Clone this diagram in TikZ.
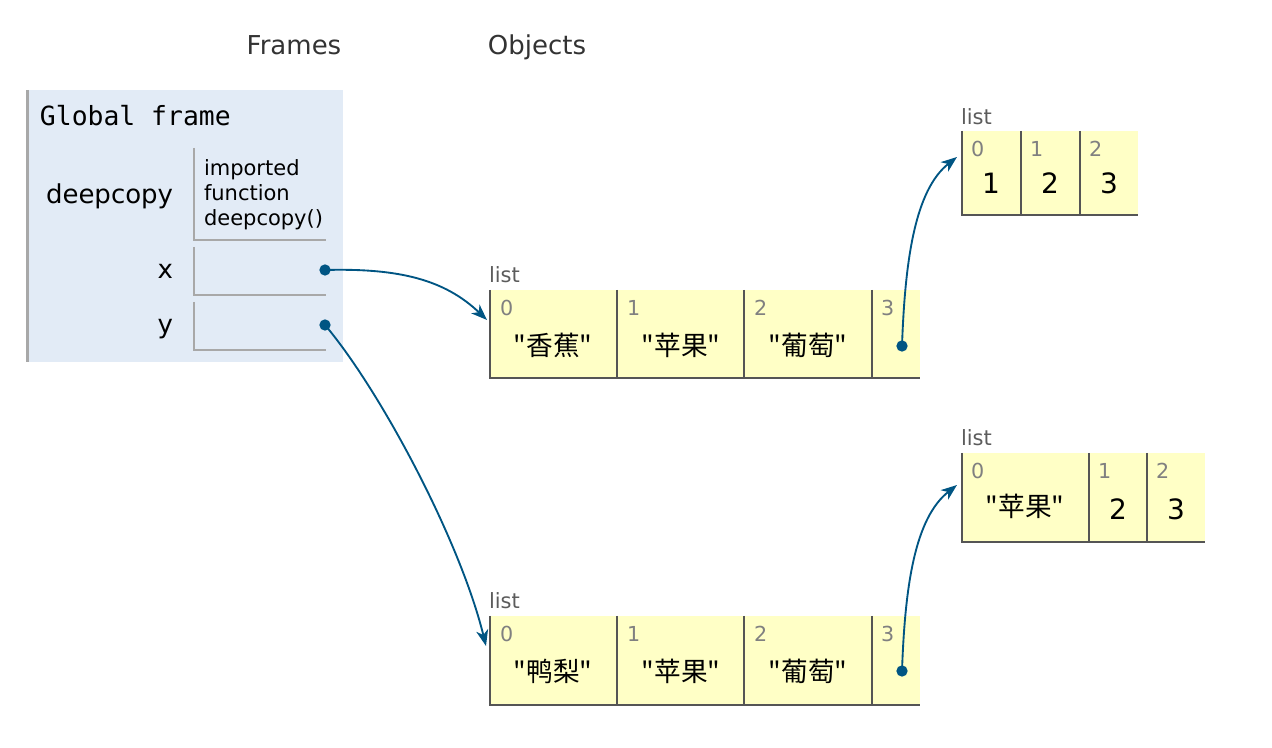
\documentclass[tikz,border=0pt]{standalone}
\usepackage{fontspec}
\setmainfont{DejaVu Sans}
\setmonofont{DejaVu Sans Mono}
\newfontfamily\cjk{Noto Sans CJK SC}
\usetikzlibrary{arrows.meta}
\definecolor{framebg}{HTML}{E2EBF6}
\definecolor{framebar}{HTML}{A8A8A8}
\definecolor{heapbg}{HTML}{FFFFC6}
\definecolor{ptr}{HTML}{005583}
\definecolor{idxc}{HTML}{808080}
\definecolor{cellline}{HTML}{555555}
\definecolor{lbl}{HTML}{333333}
\begin{document}
\begin{tikzpicture}[x=0.75pt,y=-0.75pt,
  txt/.style={inner sep=0pt,outer sep=0pt},
  head/.style={txt,font=\fontsize{19.5pt}{23pt}\selectfont,text=lbl},
  big/.style={txt,font=\fontsize{19.5pt}{23pt}\selectfont},
  small/.style={txt,font=\fontsize{15.75pt}{18.75pt}\selectfont,align=left},
  listlbl/.style={txt,font=\fontsize{15.75pt}{18pt}\selectfont,text=lbl!80!white,anchor=base west},
  idx/.style={txt,font=\fontsize{15.5pt}{17pt}\selectfont,text=idxc,anchor=base west},
  val/.style={txt,font=\fontsize{21pt}{24pt}\selectfont},
  cval/.style={txt,font=\cjk\fontsize{20pt}{23pt}\selectfont},
  slot/.style={draw=framebar,line width=1.5pt},
  cellb/.style={draw=cellline,line width=1.5pt},
  dot/.style={circle,fill=ptr,inner sep=0pt,minimum size=8.5pt},
  ptrline/.style={draw=ptr,line width=1.4pt,-{Stealth[length=12pt,width=9pt,inset=3.5pt]}}
]
\useasboundingbox (0,0) rectangle (1272,748);

% headings
\node[head,anchor=base] (hframes) at (294,55) {Frames};
\node[head,anchor=base] (hobjects) at (537,55) {Objects};

% global frame
\fill[framebg] (26,90) rectangle (343,362);
\draw[framebar,line width=2.2pt] (27.5,90) -- (27.5,362);
\node[big,anchor=base west,font=\ttfamily\fontsize{19.8pt}{23pt}\selectfont] (gf) at (40,126) {Global frame};

\node[big,anchor=base west] (vdeep) at (46,204) {deepcopy};
\draw[slot] (194,148) -- (194,240) -- (326,240);
\node[small,anchor=west] (fdeep) at (204,195) {imported\\function\\deepcopy()};

\node[big,anchor=base east] (vx) at (173,279) {x};
\draw[slot] (194,247) -- (194,295) -- (326,295);
\node[dot] (dx) at (325,270) {};

\node[big,anchor=base east] (vy) at (173,334) {y};
\draw[slot] (194,302) -- (194,350) -- (326,350);
\node[dot] (dy) at (325,325) {};

% list A (top middle)
\node[listlbl] (la) at (489,283) {list};
\fill[heapbg] (490,290) rectangle (920,378);
\draw[cellb] (490,290) -- (490,378) -- (920,378);
\draw[cellb] (617,290) -- (617,378);
\draw[cellb] (744,290) -- (744,378);
\draw[cellb] (872,290) -- (872,378);
\node[idx] at (500,316) {0};
\node[idx] at (627,316) {1};
\node[idx] at (754,316) {2};
\node[idx] at (881,316) {3};
\node[cval] (a0) at (553,345) {"香蕉"};
\node[cval] (a1) at (681,345) {"苹果"};
\node[cval] (a2) at (808,345) {"葡萄"};
\node[dot] (da) at (902,346) {};
\coordinate (ain) at (487,320);

% list B (bottom middle)
\node[listlbl] (lb) at (489,609) {list};
\fill[heapbg] (490,616) rectangle (920,705);
\draw[cellb] (490,616) -- (490,705) -- (920,705);
\draw[cellb] (617,616) -- (617,705);
\draw[cellb] (744,616) -- (744,705);
\draw[cellb] (872,616) -- (872,705);
\node[idx] at (500,642) {0};
\node[idx] at (627,642) {1};
\node[idx] at (754,642) {2};
\node[idx] at (881,642) {3};
\node[cval] (b0) at (553,671) {"鸭梨"};
\node[cval] (b1) at (681,671) {"苹果"};
\node[cval] (b2) at (808,671) {"葡萄"};
\node[dot] (db) at (902,671) {};
\coordinate (bin) at (486,646);

% list C (top right)
\node[listlbl] (lc) at (961,125) {list};
\fill[heapbg] (962,131) rectangle (1138,215);
\draw[cellb] (962,131) -- (962,215) -- (1138,215);
\draw[cellb] (1021,131) -- (1021,215);
\draw[cellb] (1080,131) -- (1080,215);
\node[idx] at (971,157) {0};
\node[idx] at (1030,157) {1};
\node[idx] at (1089,157) {2};
\node[val,anchor=base] (c0) at (991,194) {1};
\node[val,anchor=base] (c1) at (1050,194) {2};
\node[val,anchor=base] (c2) at (1109,194) {3};
\coordinate (cin) at (957,157);

% list D (bottom right)
\node[listlbl] (ld) at (961,446) {list};
\fill[heapbg] (962,453) rectangle (1205,542);
\draw[cellb] (962,453) -- (962,542) -- (1205,542);
\draw[cellb] (1089,453) -- (1089,542);
\draw[cellb] (1147,453) -- (1147,542);
\node[idx] at (971,479) {0};
\node[idx] at (1098,479) {1};
\node[idx] at (1156,479) {2};
\node[cval] (d0) at (1025,506) {"苹果"};
\node[val,anchor=base] (d1) at (1118,520) {2};
\node[val,anchor=base] (d2) at (1176,520) {3};
\coordinate (din) at (957,485);

% pointers
\draw[ptrline] (dx.center) .. controls (400,268) and (445,280) .. (ain);
\draw[ptrline] (dy.center) .. controls (380,390) and (460,540) .. (bin);
\draw[ptrline] (da.center) .. controls (905,260) and (915,190) .. (cin);
\draw[ptrline] (db.center) .. controls (905,585) and (915,518) .. (din);
\end{tikzpicture}
\end{document}
